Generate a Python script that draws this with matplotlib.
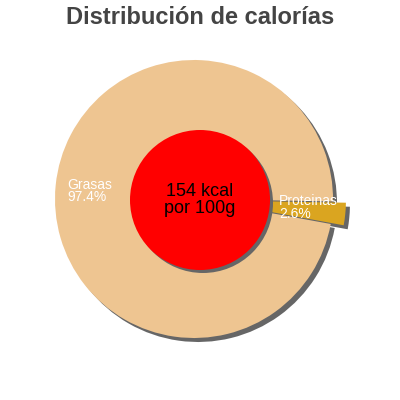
import matplotlib
matplotlib.use("Agg")
import matplotlib.pyplot as plt
import numpy as np

title = "Distribución de calorías"
categories = ["Grasas", "Proteinas"]
percent = [97.4, 2.6]
colors = ["#EEC591", "#DAA520"]
center_text = "154 kcal\npor 100g"

plt.rcParams['font.family'] = ['Liberation Sans', 'DejaVu Sans']

fig = plt.figure(figsize=(4, 4), dpi=100)
ax = fig.add_axes([0, 0, 1, 1])

cx, cy, R = 194, 201, 139
explode = [0, 13]
start = -1
shadow_col = "#666666"

# shadow
ax.pie(percent, colors=[shadow_col] * 2, explode=explode, startangle=start,
       center=(cx + 4, cy - 4), radius=R, frame=True,
       wedgeprops=dict(linewidth=0))
wedges, _ = ax.pie(percent, colors=colors, explode=explode, startangle=start,
                   center=(cx, cy), radius=R, frame=True,
                   wedgeprops=dict(linewidth=0))
ax.set_xlim(0, 400)
ax.set_ylim(0, 400)
ax.set_aspect('equal')
ax.axis('off')

# inner circle with shadow
ax.add_patch(plt.Circle((203, 197), 70, color=shadow_col, zorder=3, lw=0))
ax.add_patch(plt.Circle((200, 200), 70, color="#FF0000", zorder=4, lw=0))
ax.text(200, 200, center_text, ha='center', va='center', fontsize=13,
        color='black', zorder=5, linespacing=1.0)

# labels
label_pos = [(67, 209), (279, 192.5)]
for (x, y), c, p in zip(label_pos, categories, percent):
    ax.text(x, y, f"{c}\n{p}%", ha='left', va='center', color='white',
            fontsize=10, zorder=5, linespacing=0.85)

fig.text(0.5, 1 - 17 / 400, title, ha='center', va='center', fontsize=17,
         fontweight='bold', color='#444444')

fig.savefig("out.png", dpi=100)
